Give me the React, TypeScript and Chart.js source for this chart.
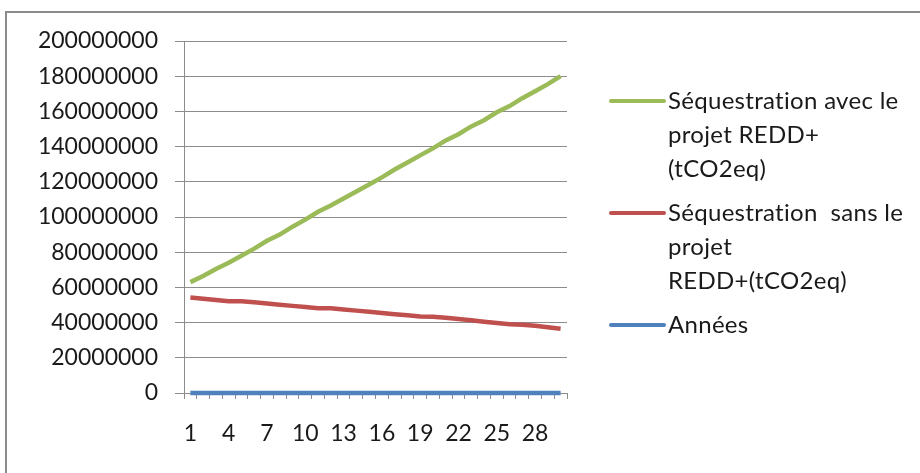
import React, { useEffect, useRef } from "react";
import { Chart, registerables } from "chart.js";

Chart.register(...registerables);

const years = [
  "1", "2", "3", "4", "5", "6", "7", "8", "9", "10",
  "11", "12", "13", "14", "15", "16", "17", "18", "19", "20",
  "21", "22", "23", "24", "25", "26", "27", "28", "29", "30",
];

const avecProjet = [
  63000000, 66500000, 70500000, 74000000, 78000000, 82000000, 86500000, 90000000, 94500000, 98500000,
  103000000, 106500000, 110500000, 114500000, 118500000, 122500000, 127000000, 131000000, 135000000, 139000000,
  143500000, 147000000, 151500000, 155000000, 159500000, 163000000, 167500000, 171500000, 175500000, 180000000,
];

const sansProjet = [
  54300000, 53500000, 52800000, 52200000, 52100000, 51500000, 50800000, 50200000, 49500000, 48800000,
  48200000, 48100000, 47500000, 46800000, 46200000, 45500000, 44800000, 44200000, 43500000, 43300000,
  42800000, 42000000, 41300000, 40500000, 39800000, 39000000, 38800000, 38200000, 37400000, 36500000,
];

const annees = [
  1, 2, 3, 4, 5, 6, 7, 8, 9, 10,
  11, 12, 13, 14, 15, 16, 17, 18, 19, 20,
  21, 22, 23, 24, 25, 26, 27, 28, 29, 30,
];

const labelAvec = ["Séquestration avec le", "projet REDD+", "(tCO2eq)"];
const labelSans = ["Séquestration  sans le", "projet", "REDD+(tCO2eq)"];
const labelAnnees = ["Années"];

const FONT = "Lato, 'Open Sans', sans-serif";

const framePlugin = {
  id: "frame",
  beforeDraw(chart: any) {
    const ctx = chart.ctx;
    ctx.save();
    ctx.fillStyle = "#ffffff";
    ctx.fillRect(0, 0, chart.width, chart.height);
    ctx.strokeStyle = "#8c8c8c";
    ctx.lineWidth = 2;
    ctx.beginPath();
    ctx.moveTo(6, chart.height + 5);
    ctx.lineTo(6, 12);
    ctx.lineTo(chart.width + 5, 12);
    ctx.stroke();
    ctx.restore();
  },
};

const legendPlugin = {
  id: "customLegend",
  afterDraw(chart: any) {
    const ctx = chart.ctx;
    ctx.save();
    ctx.font = `24px ${FONT}`;
    (ctx as any).letterSpacing = "0.3px";
    ctx.textBaseline = "middle";
    ctx.textAlign = "left";
    let y = 101;
    chart.data.datasets.forEach((ds: any) => {
      const lines: string[] = ds.label.split("\n");
      ctx.strokeStyle = ds.borderColor;
      ctx.lineWidth = 4;
      ctx.lineCap = "round";
      ctx.beginPath();
      ctx.moveTo(611, y);
      ctx.lineTo(664, y);
      ctx.stroke();
      ctx.fillStyle = "#1a1a1a";
      lines.forEach((ln, i) => {
        ctx.fillText(ln, 668, y + i * 34);
      });
      y += lines.length * 34 + 10;
    });
    ctx.restore();
  },
};

export default function App() {
  const ref = useRef<HTMLCanvasElement>(null);

  useEffect(() => {
    document.body.style.margin = "0";
    const canvas = ref.current!;
    const chart = new Chart(canvas, {
      type: "line",
      data: {
        labels: years,
        datasets: [
          {
            label: labelAvec.join("\n"),
            data: avecProjet,
            borderColor: "#9BBB59",
            backgroundColor: "#9BBB59",
            borderWidth: 4.5,
            pointRadius: 0,
            tension: 0,
            clip: false,
          },
          {
            label: labelSans.join("\n"),
            data: sansProjet,
            borderColor: "#C0504D",
            backgroundColor: "#C0504D",
            borderWidth: 4.5,
            pointRadius: 0,
            tension: 0,
            clip: false,
          },
          {
            label: labelAnnees.join("\n"),
            data: annees,
            borderColor: "#4F81BD",
            backgroundColor: "#4F81BD",
            borderWidth: 4.5,
            pointRadius: 0,
            tension: 0,
            clip: false,
          },
        ],
      },
      options: {
        animation: false,
        responsive: false,
        maintainAspectRatio: false,
        layout: { padding: { left: 0, top: 41, right: 353, bottom: 0 } },
        plugins: {
          legend: { display: false },
          tooltip: { enabled: false },
        },
        scales: {
          x: {
            type: "category",
            offset: true,
            grid: {
              offset: true,
              drawOnChartArea: false,
              drawTicks: true,
              tickLength: 6,
              color: "#8c8c8c",
            },
            border: { color: "#8c8c8c", width: 1 },
            ticks: {
              autoSkip: false,
              maxRotation: 0,
              padding: 21,
              color: "#1a1a1a",
              font: { family: FONT, size: 23 },
              callback: (_v: any, i: number) => (i % 3 === 0 ? years[i] : ""),
            },
            afterFit: (s: any) => {
              s.height = 80;
            },
          },
          y: {
            min: 0,
            max: 200000000,
            grid: {
              color: "#8c8c8c",
              tickLength: 9,
              drawTicks: true,
            },
            border: { color: "#8c8c8c", width: 1 },
            ticks: {
              stepSize: 20000000,
              padding: 17,
              color: "#1a1a1a",
              font: { family: FONT, size: 23 },
              callback: (v: any) => String(v),
            },
            afterFit: (s: any) => {
              s.width = 184;
            },
          },
        },
      },
      plugins: [framePlugin, legendPlugin],
    });
    return () => chart.destroy();
  }, []);

  return (
    <div style={{ position: "absolute", left: 0, top: 0, width: 920, height: 473 }}>
      <canvas ref={ref} width={920} height={473} style={{ display: "block" }} />
    </div>
  );
}
